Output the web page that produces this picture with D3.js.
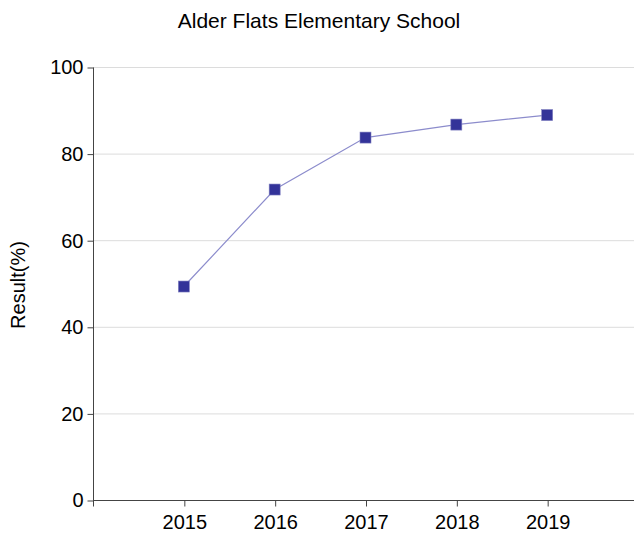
<!DOCTYPE html>
<html>
<head>
<meta charset="utf-8">
<script src="https://cdn.jsdelivr.net/npm/d3@7"></script>
<style>
  body { margin: 0; background: #fff; }
  svg { display: block; font-family: "Liberation Sans", Arial, sans-serif; }
</style>
</head>
<body>
<svg id="chart" width="634" height="537"></svg>
<script>
var years = [2015, 2016, 2017, 2018, 2019];
var results = [49.3, 71.7, 83.7, 86.7, 88.9];
var yTicks = [0, 20, 40, 60, 80, 100];

var svg = d3.select("#chart");

var x = d3.scaleLinear().domain([2014, 2020]).range([93, 638]);
var y = d3.scaleLinear().domain([0, 100]).range([500, 67]);

// gridlines
svg.append("g")
  .selectAll("line")
  .data(yTicks.filter(d => d > 0))
  .enter().append("line")
  .attr("x1", 93).attr("x2", 634)
  .attr("y1", d => y(d) + 0.5).attr("y2", d => y(d) + 0.5)
  .attr("stroke", "#dcdcdc").attr("stroke-width", 1);

// y axis
var yAxis = svg.append("g")
  .attr("transform", "translate(93.5,0.5)")
  .call(d3.axisLeft(y).tickValues(yTicks).tickSize(6).tickPadding(4).tickSizeOuter(0));
yAxis.select(".domain").attr("stroke", "#444").attr("d", "M0," + y(100) + "V" + (y(0) + 6));
yAxis.selectAll(".tick line").attr("stroke", "#444");
yAxis.selectAll(".tick text").attr("font-size", 20).attr("fill", "#000")
  .attr("font-family", "Liberation Sans, Arial, sans-serif");

// x axis
var xAxis = svg.append("g")
  .attr("transform", "translate(0.5," + (y(0) + 0.5) + ")")
  .call(d3.axisBottom(x).tickValues(years).tickFormat(d3.format("d")).tickSize(6).tickPadding(8).tickSizeOuter(0));
xAxis.select(".domain").attr("stroke", "#444").attr("d", "M" + x(2014) + ",0H634");
xAxis.selectAll(".tick line").attr("stroke", "#444");
xAxis.selectAll(".tick text").attr("font-size", 20).attr("fill", "#000")
  .attr("font-family", "Liberation Sans, Arial, sans-serif");

// line
var line = d3.line().x((d, i) => x(years[i])).y(d => y(d));
svg.append("path")
  .datum(results)
  .attr("d", line)
  .attr("fill", "none")
  .attr("stroke", "#8c8ccc")
  .attr("stroke-width", 1.2);

// markers
svg.append("g")
  .selectAll("rect")
  .data(results)
  .enter().append("rect")
  .attr("x", (d, i) => x(years[i]) - 5.5)
  .attr("y", d => y(d) - 5.5)
  .attr("width", 11).attr("height", 11)
  .attr("fill", "#333399")
  .attr("stroke", "#8080c0").attr("stroke-width", 0.6);

// title
svg.append("text")
  .attr("x", 319).attr("y", 28)
  .attr("text-anchor", "middle")
  .attr("font-size", 21)
  .text("Alder Flats Elementary School");

// y title
svg.append("text")
  .attr("transform", "translate(25,285) rotate(-90)")
  .attr("text-anchor", "middle")
  .attr("font-size", 20)
  .text("Result(%)");
</script>
</body>
</html>
